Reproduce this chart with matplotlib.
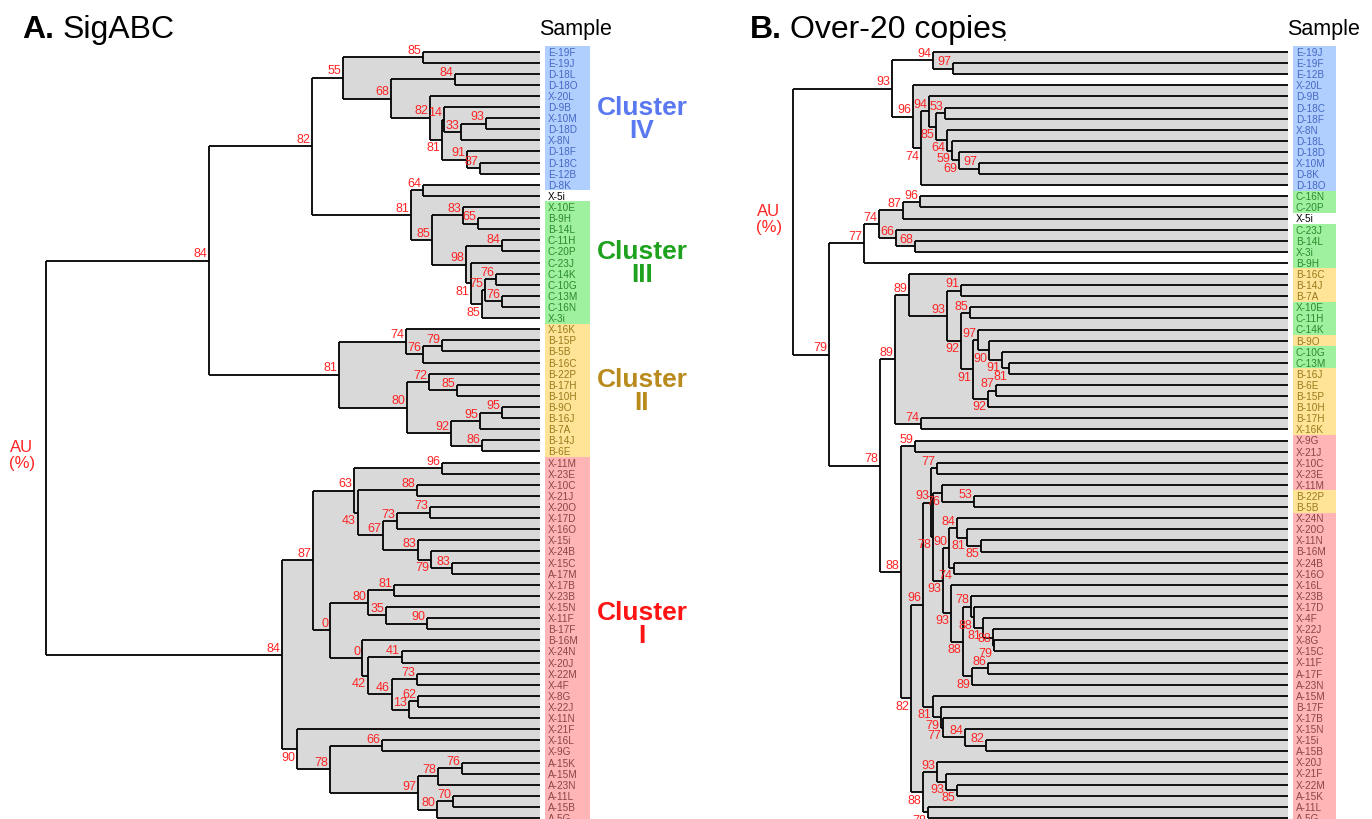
import matplotlib
matplotlib.use('Agg')
import matplotlib.pyplot as plt
from matplotlib.patches import Rectangle, Polygon

plt.rcParams['font.family'] = ['Liberation Sans', 'DejaVu Sans']

# cluster membership (taken from panel A, used to colour both panels)
CLUSTER_IV = ['E-19F', 'E-19J', 'D-18L', 'D-18O', 'X-20L', 'D-9B', 'X-10M', 'D-18D',
              'X-8N', 'D-18F', 'D-18C', 'E-12B', 'D-8K']
CLUSTER_III = ['X-10E', 'B-9H', 'B-14L', 'C-11H', 'C-20P', 'C-23J', 'C-14K', 'C-10G',
               'C-13M', 'C-16N', 'X-3i']
CLUSTER_II = ['X-16K', 'B-15P', 'B-5B', 'B-16C', 'B-22P', 'B-17H', 'B-10H', 'B-9O',
              'B-16J', 'B-7A', 'B-14J', 'B-6E']
CLUSTER_I = ['X-11M', 'X-23E', 'X-10C', 'X-21J', 'X-20O', 'X-17D', 'X-16O', 'X-15i',
             'X-24B', 'X-15C', 'A-17M', 'X-17B', 'X-23B', 'X-15N', 'X-11F', 'B-17F',
             'B-16M', 'X-24N', 'X-20J', 'X-22M', 'X-4F', 'X-8G', 'X-22J', 'X-11N',
             'X-21F', 'X-16L', 'X-9G', 'A-15K', 'A-15M', 'A-23N', 'A-11L', 'A-15B',
             'A-5G', 'A-17F']

# ---- panel A: SigABC ----
LEAVES_A = ['E-19F', 'E-19J', 'D-18L', 'D-18O', 'X-20L', 'D-9B', 'X-10M', 'D-18D', 'X-8N',
            'D-18F', 'D-18C', 'E-12B', 'D-8K', 'X-5i', 'X-10E', 'B-9H', 'B-14L', 'C-11H',
            'C-20P', 'C-23J', 'C-14K', 'C-10G', 'C-13M', 'C-16N', 'X-3i', 'X-16K', 'B-15P',
            'B-5B', 'B-16C', 'B-22P', 'B-17H', 'B-10H', 'B-9O', 'B-16J', 'B-7A', 'B-14J',
            'B-6E', 'X-11M', 'X-23E', 'X-10C', 'X-21J', 'X-20O', 'X-17D', 'X-16O', 'X-15i',
            'X-24B', 'X-15C', 'A-17M', 'X-17B', 'X-23B', 'X-15N', 'X-11F', 'B-17F', 'B-16M',
            'X-24N', 'X-20J', 'X-22M', 'X-4F', 'X-8G', 'X-22J', 'X-11N', 'X-21F', 'X-16L',
            'X-9G', 'A-15K', 'A-15M', 'A-23N', 'A-11L', 'A-15B', 'A-5G']

# (node, upper child, lower child, height, AU %)
MERGES_A = [
    ('a85_1', 'E-19F', 'E-19J', 1.17, 85),
    ('a84_1', 'D-18L', 'D-18O', 0.85, 84),
    ('a93_1', 'X-10M', 'D-18D', 0.54, 93),
    ('a33', 'a93_1', 'X-8N', 0.79, 33),
    ('a14', 'D-9B', 'a33', 0.96, 14),
    ('a87_1', 'D-18C', 'E-12B', 0.60, 87),
    ('a91_1', 'D-18F', 'a87_1', 0.73, 91),
    ('a81_1', 'a14', 'a91_1', 0.98, 81),
    ('a82_1', 'X-20L', 'a81_1', 1.10, 82),
    ('a68', 'a84_1', 'a82_1', 1.49, 68),
    ('a55', 'a85_1', 'a68', 1.97, 55),
    ('a64', 'D-8K', 'X-5i', 1.17, 64),
    ('a65', 'B-9H', 'B-14L', 0.62, 65),
    ('a83_1', 'X-10E', 'a65', 0.77, 83),
    ('a84_2', 'C-11H', 'C-20P', 0.38, 84),
    ('a76_1', 'C-14K', 'C-10G', 0.44, 76),
    ('a76_2', 'C-13M', 'C-16N', 0.38, 76),
    ('a75', 'a76_1', 'a76_2', 0.55, 75),
    ('a85_2', 'a75', 'X-3i', 0.58, 85),
    ('a81_2', 'C-23J', 'a85_2', 0.69, 81),
    ('a98', 'a84_2', 'a81_2', 0.74, 98),
    ('a85_3', 'a83_1', 'a98', 1.08, 85),
    ('a81_3', 'a64', 'a85_3', 1.29, 81),
    ('a82_2', 'a55', 'a81_3', 2.28, 82),
    ('a79_1', 'B-15P', 'B-5B', 0.98, 79),
    ('a76_3', 'a79_1', 'B-16C', 1.17, 76),
    ('a74', 'X-16K', 'a76_3', 1.34, 74),
    ('a85_4', 'B-17H', 'B-10H', 0.83, 85),
    ('a72', 'B-22P', 'a85_4', 1.11, 72),
    ('a95_1', 'B-9O', 'B-16J', 0.38, 95),
    ('a95_2', 'a95_1', 'B-7A', 0.60, 95),
    ('a86', 'B-14J', 'B-6E', 0.58, 86),
    ('a92', 'a95_2', 'a86', 0.89, 92),
    ('a80_1', 'a72', 'a92', 1.33, 80),
    ('a81_4', 'a74', 'a80_1', 2.01, 81),
    ('a84_3', 'a82_2', 'a81_4', 3.31, 84),
    ('a96', 'X-11M', 'X-23E', 0.98, 96),
    ('a88_1', 'X-10C', 'X-21J', 1.23, 88),
    ('a73_1', 'X-20O', 'X-17D', 1.10, 73),
    ('a73_2', 'a73_1', 'X-16O', 1.43, 73),
    ('a83_2', 'X-15C', 'A-17M', 0.88, 83),
    ('a79_2', 'X-24B', 'a83_2', 1.09, 79),
    ('a83_3', 'X-15i', 'a79_2', 1.22, 83),
    ('a67', 'a73_2', 'a83_3', 1.57, 67),
    ('a43', 'a88_1', 'a67', 1.82, 43),
    ('a63', 'a96', 'a43', 1.86, 63),
    ('a81_5', 'X-17B', 'X-23B', 1.46, 81),
    ('a90_1', 'X-11F', 'B-17F', 1.13, 90),
    ('a35', 'X-15N', 'a90_1', 1.54, 35),
    ('a80_2', 'a81_5', 'a35', 1.72, 80),
    ('a41', 'X-24N', 'X-20J', 1.38, 41),
    ('a73_3', 'X-22M', 'X-4F', 1.23, 73),
    ('a62', 'X-8G', 'X-22J', 1.22, 62),
    ('a13', 'a62', 'X-11N', 1.31, 13),
    ('a46', 'a73_3', 'a13', 1.48, 46),
    ('a42', 'a41', 'a46', 1.72, 42),
    ('a0_1', 'B-16M', 'a42', 1.78, 0),
    ('a0_2', 'a80_2', 'a0_1', 2.10, 0),
    ('a87', 'a63', 'a0_2', 2.27, 87),
    ('a66', 'X-16L', 'X-9G', 1.58, 66),
    ('a76_4', 'A-15K', 'A-15M', 0.78, 76),
    ('a78_1', 'a76_4', 'A-23N', 1.02, 78),
    ('a70', 'A-11L', 'A-15B', 0.87, 70),
    ('a80_3', 'a70', 'A-5G', 1.03, 80),
    ('a97', 'a78_1', 'a80_3', 1.22, 97),
    ('a78_2', 'a66', 'a97', 2.10, 78),
    ('a90_2', 'X-21F', 'a78_2', 2.43, 90),
    ('a84_4', 'a87', 'a90_2', 2.58, 84),
    ('rootA', 'a84_3', 'a84_4', 4.94, None),
]
FILL_A = ['a55', 'a81_3', 'a81_4', 'a84_4']
BELOW_A = {'a81_1', 'a85_2', 'a81_2', 'a79_2', 'a43', 'a42', 'a90_2'}
MIDDLE_A = set()

# ---- panel B: over-20 copies ----
LEAVES_B = ['E-19J', 'E-19F', 'E-12B', 'X-20L', 'D-9B', 'D-18C', 'D-18F', 'X-8N', 'D-18L',
            'D-18D', 'X-10M', 'D-8K', 'D-18O', 'C-16N', 'C-20P', 'X-5i', 'C-23J', 'B-14L',
            'X-3i', 'B-9H', 'B-16C', 'B-14J', 'B-7A', 'X-10E', 'C-11H', 'C-14K', 'B-9O',
            'C-10G', 'C-13M', 'B-16J', 'B-6E', 'B-15P', 'B-10H', 'B-17H', 'X-16K', 'X-9G',
            'X-21J', 'X-10C', 'X-23E', 'X-11M', 'B-22P', 'B-5B', 'X-24N', 'X-20O', 'X-11N',
            'B-16M', 'X-24B', 'X-16O', 'X-16L', 'X-23B', 'X-17D', 'X-4F', 'X-22J', 'X-8G',
            'X-15C', 'X-11F', 'A-17F', 'A-23N', 'A-15M', 'B-17F', 'X-17B', 'X-15N', 'X-15i',
            'A-15B', 'X-20J', 'X-21F', 'X-22M', 'A-15K', 'A-11L', 'A-5G']

MERGES_B = [
    ('b97_1', 'E-19F', 'E-12B', 3.35, 97),
    ('b94_1', 'E-19J', 'b97_1', 3.55, 94),
    ('b97_2', 'X-10M', 'D-8K', 3.09, 97),
    ('b69', 'D-18D', 'b97_2', 3.29, 69),
    ('b59a', 'D-18L', 'b69', 3.36, 59),
    ('b64', 'X-8N', 'b59a', 3.41, 64),
    ('b53a', 'D-18C', 'D-18F', 3.43, 53),
    ('b85_1', 'b53a', 'b64', 3.52, 85),
    ('b94_2', 'D-9B', 'b85_1', 3.59, 94),
    ('b74_1', 'b94_2', 'D-18O', 3.67, 74),
    ('b96_1', 'X-20L', 'b74_1', 3.75, 96),
    ('b93_1', 'b94_1', 'b96_1', 3.96, 93),
    ('b96_2', 'C-16N', 'C-20P', 3.68, 96),
    ('b87_1', 'b96_2', 'X-5i', 3.85, 87),
    ('b68', 'B-14L', 'X-3i', 3.73, 68),
    ('b66', 'C-23J', 'b68', 3.92, 66),
    ('b74_2', 'b87_1', 'b66', 4.09, 74),
    ('b77_1', 'b74_2', 'B-9H', 4.24, 77),
    ('b91_1', 'B-14J', 'B-7A', 3.27, 91),
    ('b85_2', 'X-10E', 'C-11H', 3.18, 85),
    ('b81_1', 'C-13M', 'B-16J', 2.79, 81),
    ('b91_2', 'C-10G', 'b81_1', 2.86, 91),
    ('b90_1', 'B-9O', 'b91_2', 2.99, 90),
    ('b97_3', 'C-14K', 'b90_1', 3.10, 97),
    ('b87_2', 'B-6E', 'B-15P', 2.92, 87),
    ('b92_1', 'b87_2', 'B-10H', 3.00, 92),
    ('b91_3', 'b97_3', 'b92_1', 3.15, 91),
    ('b92_2', 'b85_2', 'b91_3', 3.27, 92),
    ('b93_2', 'b91_1', 'b92_2', 3.41, 93),
    ('b89_1', 'B-16C', 'b93_2', 3.79, 89),
    ('b74_3', 'B-17H', 'X-16K', 3.67, 74),
    ('b89_2', 'b89_1', 'b74_3', 3.93, 89),
    ('b59b', 'X-9G', 'X-21J', 3.73, 59),
    ('b77_2', 'X-10C', 'X-23E', 3.51, 77),
    ('b53b', 'B-22P', 'B-5B', 3.14, 53),
    ('b76', 'X-11M', 'b53b', 3.46, 76),
    ('b85_3', 'X-11N', 'B-16M', 3.07, 85),
    ('b81_2', 'X-20O', 'b85_3', 3.21, 81),
    ('b84_1', 'X-24N', 'b81_2', 3.31, 84),
    ('b74_4', 'X-24B', 'X-16O', 3.34, 74),
    ('b90_2', 'b84_1', 'b74_4', 3.39, 90),
    ('b86', 'X-11F', 'A-17F', 3.00, 86),
    ('b89_3', 'b86', 'A-23N', 3.16, 89),
    ('b79_1', 'X-8G', 'X-15C', 2.94, 79),
    ('b88_1', 'X-22J', 'b79_1', 2.95, 88),
    ('b81_3', 'X-4F', 'b88_1', 3.05, 81),
    ('b88_2', 'X-17D', 'b81_3', 3.14, 88),
    ('b78_1', 'X-23B', 'b88_2', 3.17, 78),
    ('b88_3', 'b78_1', 'b89_3', 3.25, 88),
    ('b93_3', 'X-16L', 'b88_3', 3.37, 93),
    ('b93_4', 'b90_2', 'b93_3', 3.45, 93),
    ('b78_2', 'b76', 'b93_4', 3.55, 78),
    ('b93_5', 'b77_2', 'b78_2', 3.57, 93),
    ('b82_1', 'X-15i', 'A-15B', 3.02, 82),
    ('b84_2', 'X-15N', 'b82_1', 3.23, 84),
    ('b77_3', 'X-17B', 'b84_2', 3.45, 77),
    ('b79_2', 'B-17F', 'b77_3', 3.47, 79),
    ('b81_4', 'A-15M', 'b79_2', 3.55, 81),
    ('b96_3', 'b93_5', 'b81_4', 3.65, 96),
    ('b85_4', 'X-22M', 'A-15K', 3.31, 85),
    ('b93_6', 'X-21F', 'b85_4', 3.42, 93),
    ('b93_7', 'X-20J', 'b93_6', 3.51, 93),
    ('b78_3', 'A-11L', 'A-5G', 3.60, 78),
    ('b88_4', 'b93_7', 'b78_3', 3.65, 88),
    ('b82_2', 'b96_3', 'b88_4', 3.77, 82),
    ('b88_5', 'b59b', 'b82_2', 3.87, 88),
    ('b78_4', 'b89_2', 'b88_5', 4.08, 78),
    ('b79_3', 'b77_1', 'b78_4', 4.59, 79),
    ('rootB', 'b93_1', 'b79_3', 4.95, None),
]
FILL_B = ['b94_1', 'b96_1', 'b74_2', 'b89_2', 'b88_5']
BELOW_B = {'b74_1', 'b85_1', 'b64', 'b59a', 'b69', 'b92_2', 'b90_1', 'b91_2', 'b81_1',
           'b92_1', 'b91_3', 'b76', 'b85_3', 'b81_2', 'b74_4', 'b89_3', 'b79_1',
           'b81_3', 'b88_2', 'b88_3', 'b93_3', 'b93_4', 'b78_2', 'b77_3', 'b79_2', 'b81_4',
           'b85_4', 'b93_6', 'b78_3', 'b88_4', 'b82_2'}
MIDDLE_B = {'b88_1'}

# ---- styling ----
BOX_COL = {'IV': '#b0cfff', 'III': '#9ff09f', 'II': '#ffe396', 'I': '#ffb5b5', None: 'white'}
TXT_COL = {'IV': '#4568c4', 'III': '#2b8a2b', 'II': '#9a7a1c', 'I': '#8a4545', None: 'black'}
CL_COL = {'IV': '#5a78f0', 'III': '#1ea21e', 'II': '#b98a1c', 'I': '#ff1414'}
AU_COL = '#ff2323'
FILL_COL = '#d9d9d9'
AU_SIZE = 9.0

group_of = {}
for g, members in [('IV', CLUSTER_IV), ('III', CLUSTER_III), ('II', CLUSTER_II), ('I', CLUSTER_I)]:
    for m in members:
        group_of[m] = g

W, H = 1372, 820
fig = plt.figure(figsize=(W / 100, H / 100), dpi=100)


def draw_tree(ax, leaves, merges, fills, below, middle, box_w):
    ypos = {n: i for i, n in enumerate(leaves)}
    hpos = {n: 0.0 for n in leaves}
    kids = {}
    for name, a, b, h, au in merges:
        ypos[name] = (ypos[a] + ypos[b]) / 2
        hpos[name] = h
        kids[name] = (a, b) if ypos[a] < ypos[b] else (b, a)

    # grey envelopes of the highlighted clusters
    def edge(n, k):
        pts = []
        while n in kids:
            c = kids[n][k]
            pts += [(hpos[n], ypos[c]), (hpos[c], ypos[c])]
            n = c
        return pts
    for n in fills:
        poly = edge(n, 0) + edge(n, 1)[::-1]
        ax.add_patch(Polygon(poly, closed=True, fc=FILL_COL, ec='none', zorder=1))

    for name, a, b, h, au in merges:
        ya, yb = ypos[a], ypos[b]
        ax.plot([h, h], [ya, yb], color='black', lw=1.3, solid_capstyle='butt', zorder=3)
        ax.plot([h, hpos[a]], [ya, ya], color='black', lw=1.3, solid_capstyle='butt', zorder=3)
        ax.plot([h, hpos[b]], [yb, yb], color='black', lw=1.3, solid_capstyle='butt', zorder=3)
        if au is None:
            continue
        if name in middle:
            ax.text(h + 0.02, ypos[name], str(au), color=AU_COL, fontsize=AU_SIZE,
                    ha='right', va='center', zorder=4)
        elif name in below:
            ax.text(h + 0.02, ypos[name] + 0.12, str(au), color=AU_COL, fontsize=AU_SIZE,
                    ha='right', va='top', zorder=4)
        else:
            ax.text(h + 0.02, ypos[name] - 0.12, str(au), color=AU_COL, fontsize=AU_SIZE,
                    ha='right', va='bottom', zorder=4)

    for i, leaf in enumerate(leaves):
        g = group_of.get(leaf)
        ax.add_patch(Rectangle((-0.05, i - 0.5), -box_w, 1.0, fc=BOX_COL[g], ec='none', zorder=2))
        ax.text(-0.08, i, leaf, color=TXT_COL[g], fontsize=7.2, ha='left', va='center', zorder=4)

    root = merges[-1]
    ax.text(root[3] + 0.24, ypos[root[0]] - 0.3, 'AU\n(%)', color=AU_COL, fontsize=12,
            ha='center', va='center', linespacing=1.1)
    ax.text(-0.355, -1.6, 'Sample', fontsize=15.5, ha='center', va='baseline')
    return ypos


axA = fig.add_axes([0, 0, 700 / W, 1])
axA.set_xlim(5.40, -1.60)
axA.set_ylim((H - 52.5) / 11.11, -52.5 / 11.11)
axA.axis('off')
draw_tree(axA, LEAVES_A, MERGES_A, FILL_A, BELOW_A, MIDDLE_A, 0.45)

# cluster names next to panel A
CL_ROW = {'IV': 6.0, 'III': 19.0, 'II': 30.5, 'I': 51.5}
for g in ['IV', 'III', 'II', 'I']:
    axA.text(-1.02, CL_ROW[g], 'Cluster\n' + g, color=CL_COL[g], fontsize=19,
             fontweight='bold', ha='center', va='center', linespacing=0.95)

axB = fig.add_axes([700 / W, 0, 672 / W, 1])
axB.set_xlim(5.88, -0.84)
axB.set_ylim((H - 53) / 11.1, -53 / 11.1)
axB.axis('off')
draw_tree(axB, LEAVES_B, MERGES_B, FILL_B, BELOW_B, MIDDLE_B, 0.43)

# panel titles
fig.text(22 / W, 1 - 38 / H, 'A.', fontsize=23, fontweight='bold', va='baseline')
fig.text(63 / W, 1 - 38 / H, 'SigABC', fontsize=23, va='baseline')
fig.text(750 / W, 1 - 38 / H, 'B.', fontsize=23, fontweight='bold', va='baseline')
fig.text(790 / W, 1 - 38 / H, 'Over-20 copies', fontsize=23, va='baseline')
fig.text(1003 / W, 1 - 41 / H, '.', fontsize=10, va='baseline')

fig.savefig('out.png', dpi=100)
